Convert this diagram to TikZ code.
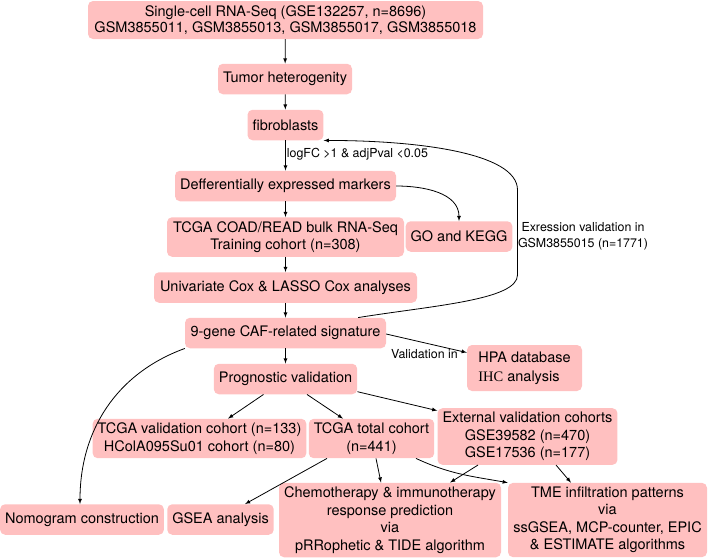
\documentclass[tikz,border=0pt]{standalone}
\usepackage{fontspec}
\setmainfont{TeX Gyre Heros}
\newfontfamily\ihcfont{Liberation Serif}
\usetikzlibrary{arrows,calc}
\definecolor{boxpink}{RGB}{255,192,192}

\begin{document}
\begin{tikzpicture}[x=1pt,y=-1pt,>=latex,
  box/.style={fill=boxpink,rounded corners=5pt,align=center,inner xsep=5pt,inner ysep=4pt,
    minimum height=30.5pt,font=\fontsize{14.5}{17.5}\selectfont},
  lbl/.style={align=center,inner sep=1pt,font=\fontsize{12.4}{16}\selectfont},
  arr/.style={->,line width=0.8pt}]
\useasboundingbox (0,0) rectangle (708,558);
\node [box,minimum width=395pt,minimum height=38pt,font=\fontsize{14.5}{16.5}\selectfont] (sc) at (285.5,20) {Single-cell RNA-Seq (GSE132257, n=8696)\\GSM3855011, GSM3855013, GSM3855017, GSM3855018};
\node [box,minimum width=134pt] (tumor) at (285,79) {Tumor heterogenity};
\node [box,minimum width=75pt] (fib) at (285.5,125) {fibroblasts};
\node [box,minimum width=221pt] (deg) at (285.5,186) {Defferentially expressed markers};
\node [box,minimum width=237pt] (tcga) at (285.5,237) {TCGA COAD/READ bulk RNA-Seq\\Training cohort (n=308)};
\node [box,minimum width=106pt] (go) at (459,236.5) {GO and KEGG};
\node [box,minimum width=263pt] (cox) at (285.5,287.5) {Univariate Cox \& LASSO Cox analyses};
\node [box,minimum width=201pt] (sig) at (285.5,333) {9-gene CAF-related signature};
\node [box,align=left,minimum width=115pt,minimum height=46pt,font=\fontsize{14.5}{19}\selectfont] (hpa) at (524.5,368) {HPA database\\{\ihcfont IHC} analysis};
\node [box,minimum width=143pt] (prog) at (285.5,379) {Prognostic validation};
\node [box,minimum width=213pt] (tval) at (199.5,438.5) {TCGA validation cohort (n=133)\\HColA095Su01 cohort (n=80)};
\node [box,minimum width=125pt] (ttot) at (371.5,438.5) {TCGA total cohort\\(n=441)};
\node [box,minimum width=179pt] (ext) at (527.5,436.5) {External validation cohorts\\GSE39582 (n=470)\\GSE17536 (n=177)};
\node [box,minimum width=162pt] (nomo) at (82,519.5) {Nomogram construction};
\node [box,minimum width=105pt] (gsea) at (220.5,519.5) {GSEA analysis};
\node [box,minimum width=222pt] (chemo) at (390,520) {Chemotherapy \& immunotherapy\\response prediction\\via\\pRRophetic \& TIDE algorithm};
\node [box,minimum width=199pt] (tme) at (607.5,520) {TME infiltration patterns\\via\\ssGSEA, MCP-counter, EPIC\\\& ESTIMATE algorithms};
\draw [arr] (sc) -- (tumor);
\draw [arr] (tumor) -- (fib);
\draw [arr] (fib) -- node [lbl,anchor=west,pos=0.45] {logFC >1 \& adjPval <0.05} (deg);
\draw [arr] (deg) -- (tcga);
\draw [arr] (deg.east) to[out=0,in=90] (go.north);
\draw [arr] (tcga) -- (cox);
\draw [arr] (cox) -- (sig);
\draw [arr] (sig.12) .. controls +(75,-12) and +(0,25) .. (517.5,275) -- (517.5,190) .. controls +(0,-38) and +(90,0) .. (fib.south east);
\node [lbl] (exr) at (583,236) {Exression validation in\\GSM3855015 (n=1771)};
\draw [arr] ([yshift=-1pt]sig.east) -- (hpa.165);
\node [lbl,anchor=east] (val) at (459,354) {Validation in};
\draw [arr] (sig) -- (prog);
\draw [arr] (sig.south west) to[out=200,in=90] ([xshift=-2pt]nomo.north);
\draw [arr] ([xshift=-22pt]prog.south) -- ([xshift=28.5pt]tval.north);
\draw [arr] ([xshift=21.5pt]prog.south) -- ([xshift=-28.5pt]ttot.north);
\draw [arr] (prog.-10) -- (ext.164);
\draw [arr] ([xshift=-44.5pt]ttot.south) -- ([xshift=24.5pt]gsea.north);
\draw [arr] ([xshift=4.5pt]ttot.south) -- ([xshift=-9pt]chemo.north);
\draw [arr] ([xshift=44.5pt]ttot.south) to[out=-25,in=170] (tme.north west);
\draw [arr] ([xshift=-49.5pt]ext.south) -- ([xshift=60pt]chemo.north);
\draw [arr] ([xshift=28.5pt]ext.south) -- ([xshift=-36.5pt]tme.north);
\end{tikzpicture}
\end{document}
